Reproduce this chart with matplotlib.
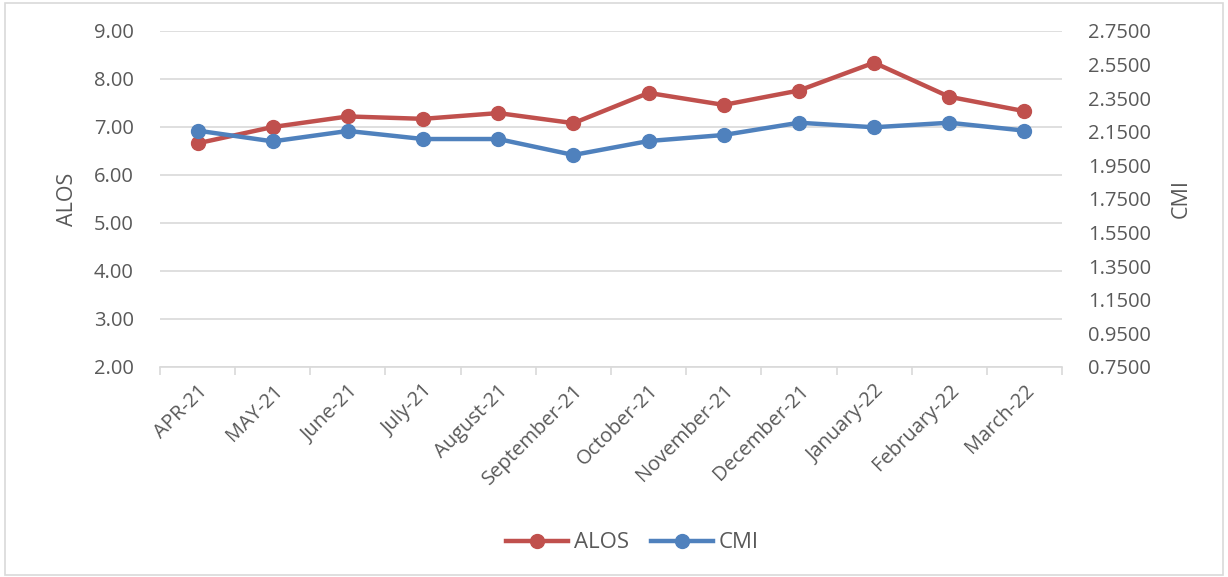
import matplotlib
matplotlib.use("Agg")
import matplotlib.pyplot as plt
from matplotlib.patches import Rectangle

months = ["APR-21", "MAY-21", "June-21", "July-21", "August-21", "September-21",
          "October-21", "November-21", "December-21", "January-22", "February-22", "March-22"]
alos = [6.66, 7.00, 7.22, 7.17, 7.29, 7.08, 7.71, 7.46, 7.76, 8.34, 7.63, 7.33]
cmi = [2.157, 2.093, 2.155, 2.107, 2.107, 2.012, 2.095, 2.131, 2.204, 2.177, 2.204, 2.157]
left_ticks = [2, 3, 4, 5, 6, 7, 8, 9]
right_ticks = [0.75, 0.95, 1.15, 1.35, 1.55, 1.75, 1.95, 2.15, 2.35, 2.55, 2.75]

plt.rcParams['font.family'] = ['Open Sans', 'DejaVu Sans']
txt = "#595959"
red = "#C0504D"
blue = "#4F81BD"
fs = 14.5

fig = plt.figure(figsize=(12.28, 5.77), dpi=100)
fig.patches.append(Rectangle((0.004, 0.004), 0.992, 0.99, transform=fig.transFigure,
                             fill=False, edgecolor="#D9D9D9", linewidth=1.2))
ax = fig.add_axes([160/1228, 1 - 367/577, (1062-160)/1228, (367-31)/577])
ax2 = ax.twinx()

x = list(range(len(months)))
l1, = ax.plot(x, alos, color=red, lw=3.2, marker='o', ms=10, label="ALOS")
l2, = ax2.plot(x, cmi, color=blue, lw=3.2, marker='o', ms=10, label="CMI")

ax.set_xlim(-0.5, len(months) - 0.5)
ax.set_ylim(2, 9)
ax.set_yticks(left_ticks)
ax.set_yticklabels([f"{v:.2f}" for v in left_ticks], color=txt, fontsize=fs)
ax2.set_ylim(0.75, 2.75)
ax2.set_yticks(right_ticks)
ax2.set_yticklabels([f"{v:.4f}" for v in right_ticks], color=txt, fontsize=fs)

ax.grid(axis='y', color="#D9D9D9", lw=1.2)
ax.set_axisbelow(True)
for a in (ax, ax2):
    for s in a.spines.values():
        s.set_visible(False)
ax.spines['bottom'].set_visible(True)
ax.spines['bottom'].set_color("#D9D9D9")
ax.spines['bottom'].set_linewidth(1.2)

ax.tick_params(axis='y', length=0, pad=19)
ax2.tick_params(axis='y', length=0, pad=19)

ax.set_xticks(x)
ax.set_xticklabels(months, rotation=45, ha='right', rotation_mode='anchor',
                   color=txt, fontsize=fs)
ax.tick_params(axis='x', length=0, pad=10)
ax.set_xticks([i - 0.5 for i in range(len(months) + 1)], minor=True)
ax.tick_params(axis='x', which='minor', length=6, color="#D9D9D9", width=1.2)

ax.set_ylabel("ALOS", color=txt, fontsize=fs + 1, labelpad=11)
ax2.set_ylabel("CMI", color=txt, fontsize=fs + 1, labelpad=14)

fig.legend(handles=[l1, l2], loc='center', bbox_to_anchor=(0.515, 1 - 543/577),
           ncol=2, frameon=False, fontsize=16, labelcolor=txt,
           handlelength=2.8, columnspacing=1.0, handletextpad=0.25)

fig.savefig("out.png", dpi=100)
